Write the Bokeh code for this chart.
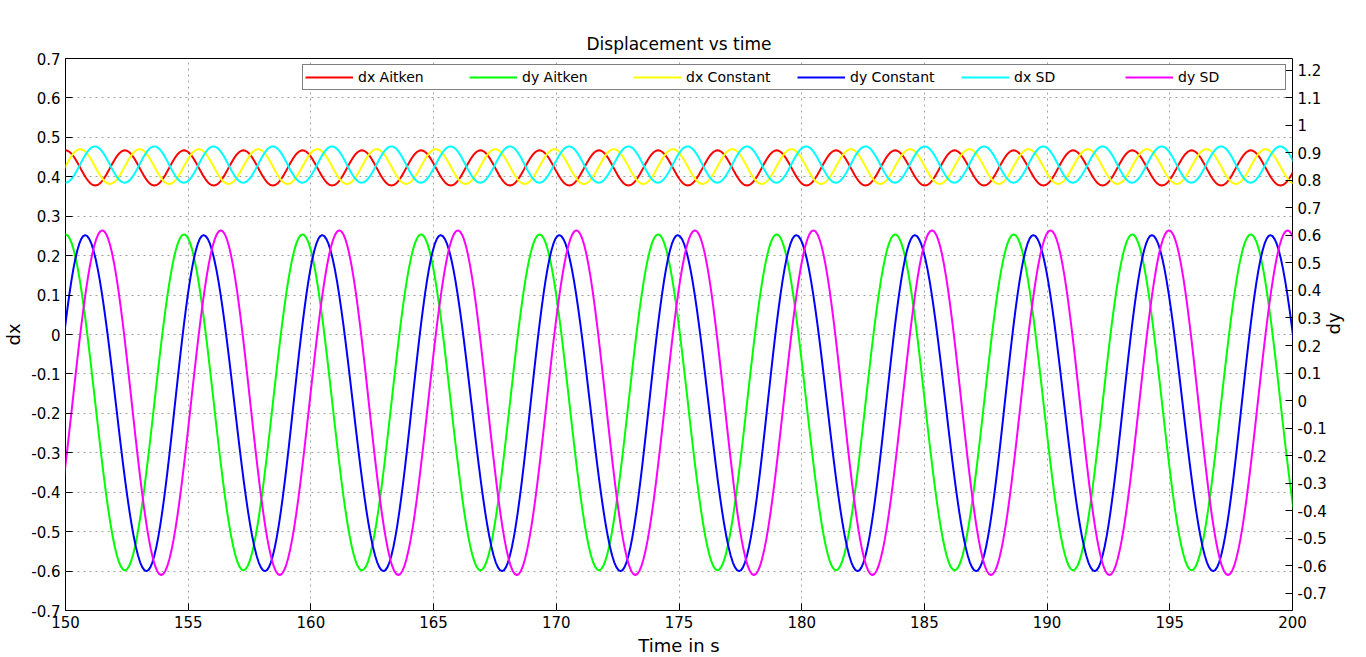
import numpy as np
from bokeh.plotting import figure
from bokeh.models import (LinearAxis, Range1d, FixedTicker, CustomJSTickFormatter,
                          Legend, LegendItem)
from bokeh.embed import file_html
from bokeh.resources import INLINE

# extremum times (s) and levels, per series
dx_aitken_peaks = [150.0, 152.42, 154.83, 157.25, 159.66, 162.08, 164.49, 166.91, 169.32, 171.74,
                   174.15, 176.57, 178.98, 181.40, 183.81, 186.23, 188.64, 191.06, 193.47, 195.89,
                   198.30, 200.72]
dx_aitken_troughs = [148.79, 151.21, 153.62, 156.04, 158.45, 160.87, 163.28, 165.70, 168.11, 170.53,
                     172.94, 175.36, 177.77, 180.19, 182.60, 185.02, 187.43, 189.85, 192.26, 194.68,
                     197.09, 199.51]
dx_aitken_levels = (0.467, 0.378)

dy_aitken_peaks = [150.0, 154.83, 159.66, 164.49, 169.32, 174.15, 178.98, 183.81, 188.64, 193.47, 198.30]
dy_aitken_troughs = [147.58, 152.42, 157.25, 162.08, 166.91, 171.74, 176.57, 181.40, 186.23, 191.06,
                     195.89, 200.72]
dy_aitken_levels = (0.254, -0.598)

dx_const_peaks = [150.6, 153.02, 155.43, 157.85, 160.26, 162.68, 165.09, 167.51, 169.92, 172.34,
                  174.75, 177.17, 179.58, 182.00, 184.41, 186.83, 189.24, 191.66, 194.07, 196.49,
                  198.90]
dx_const_troughs = [149.39, 151.81, 154.22, 156.64, 159.05, 161.47, 163.88, 166.30, 168.71, 171.13,
                    173.54, 175.96, 178.37, 180.79, 183.20, 185.62, 188.03, 190.45, 192.86, 195.28,
                    197.69, 200.11]
dx_const_levels = (0.470, 0.382)

dy_const_peaks = [150.8, 155.63, 160.46, 165.29, 170.12, 174.95, 179.78, 184.61, 189.44, 194.27, 199.10]
dy_const_troughs = [148.47, 153.3, 158.13, 162.96, 167.79, 172.62, 177.45, 182.28, 187.11, 191.94,
                    196.77, 201.6]
dy_const_levels = (0.252, -0.600)

dx_sd_peaks = [151.2, 153.62, 156.03, 158.45, 160.86, 163.28, 165.69, 168.11, 170.52, 172.94,
               175.35, 177.77, 180.18, 182.60, 185.01, 187.43, 189.84, 192.26, 194.67, 197.09, 199.50]
dx_sd_troughs = [149.99, 152.41, 154.82, 157.24, 159.65, 162.07, 164.48, 166.90, 169.31, 171.73,
                 174.14, 176.56, 178.97, 181.39, 183.80, 186.22, 188.63, 191.05, 193.46, 195.88,
                 198.29, 200.71]
dx_sd_levels = (0.477, 0.385)

dy_sd_peaks = [151.5, 156.33, 161.16, 165.99, 170.82, 175.65, 180.48, 185.31, 190.14, 194.97, 199.80]
dy_sd_troughs = [149.07, 153.9, 158.73, 163.56, 168.39, 173.22, 178.05, 182.88, 187.71, 192.54,
                 197.37, 202.2]
dy_sd_levels = (0.264, -0.610)

series = [
    ("dx Aitken", dx_aitken_peaks, dx_aitken_troughs, dx_aitken_levels, "#ff0000"),
    ("dy Aitken", dy_aitken_peaks, dy_aitken_troughs, dy_aitken_levels, "#00ff00"),
    ("dx Constant", dx_const_peaks, dx_const_troughs, dx_const_levels, "#ffff00"),
    ("dy Constant", dy_const_peaks, dy_const_troughs, dy_const_levels, "#0000ff"),
    ("dx SD", dx_sd_peaks, dx_sd_troughs, dx_sd_levels, "#00ffff"),
    ("dy SD", dy_sd_peaks, dy_sd_troughs, dy_sd_levels, "#ff00ff"),
]


def smooth(peaks, troughs, levels):
    # join the read extrema with half-cosine arcs
    pts = sorted([(t, levels[0]) for t in peaks] + [(t, levels[1]) for t in troughs])
    xs, ys = [], []
    s = np.linspace(0, 1, 30)
    for (t0, v0), (t1, v1) in zip(pts[:-1], pts[1:]):
        xs.extend(t0 + (t1 - t0) * s)
        ys.extend((v0 + v1) / 2 + (v0 - v1) / 2 * np.cos(np.pi * s))
    return xs, ys


FONT = "DejaVu Sans"
p = figure(width=1350, height=641, frame_width=1227, frame_height=552,
           x_range=Range1d(150, 200), y_range=Range1d(-0.7, 0.7),
           output_backend="svg", toolbar_location=None,
           title="Displacement vs time", min_border_left=53, min_border_top=58)
p.title.align = "center"
p.title.text_font = FONT
p.title.text_font_size = "17px"
p.title.text_font_style = "normal"
p.title.text_color = "black"
p.outline_line_color = "black"
p.outline_line_width = 1

p.extra_y_ranges = {"dy": Range1d(-0.7636, 1.2436)}
p.add_layout(LinearAxis(y_range_name="dy", axis_label="dy"), "right")

fmt = CustomJSTickFormatter(code="return (Math.round(tick*10)/10).toString();")
p.xaxis.ticker = FixedTicker(ticks=list(range(150, 201, 5)))
p.xaxis.axis_label = "Time in s"
p.yaxis[0].ticker = FixedTicker(ticks=[round(-0.7 + 0.1 * i, 1) for i in range(15)])
p.yaxis[0].axis_label = "dx"
p.yaxis[1].ticker = FixedTicker(ticks=[round(-0.7 + 0.1 * i, 1) for i in range(20)])
p.yaxis[1].axis_label_orientation = np.pi / 2
for ax in p.xaxis + p.yaxis:
    if ax in p.yaxis:
        ax.formatter = fmt
    ax.major_tick_in = 7
    ax.major_tick_out = 0
    ax.major_tick_line_color = "black"
    ax.minor_tick_line_color = None
    ax.axis_line_color = None
    ax.major_label_text_font = FONT
    ax.major_label_text_font_size = "15px"
    ax.major_label_text_color = "black"
    ax.axis_label_text_font = FONT
    ax.axis_label_text_font_size = "18px"
    ax.axis_label_text_font_style = "normal"
    ax.axis_label_text_color = "black"
    ax.axis_label_standoff = 4

for g in (p.xgrid, p.ygrid):
    g.grid_line_color = "#a0a0a0"
    g.grid_line_dash = "dotted"

items = []
for name, pk, tr, lv, col in series:
    xs, ys = smooth(pk, tr, lv)
    r = p.line(xs, ys, line_color=col, line_width=2)
    items.append(LegendItem(label=name, renderers=[r]))

legend = Legend(items=items, orientation="horizontal", location="top_right",
                margin=6, padding=2, spacing=6, glyph_width=48, label_width=105,
                label_text_font=FONT, label_text_font_size="14px",
                label_text_color="black",
                border_line_color="black", background_fill_alpha=1)
p.add_layout(legend)

open("out.html", "w").write(file_html(p, INLINE))
